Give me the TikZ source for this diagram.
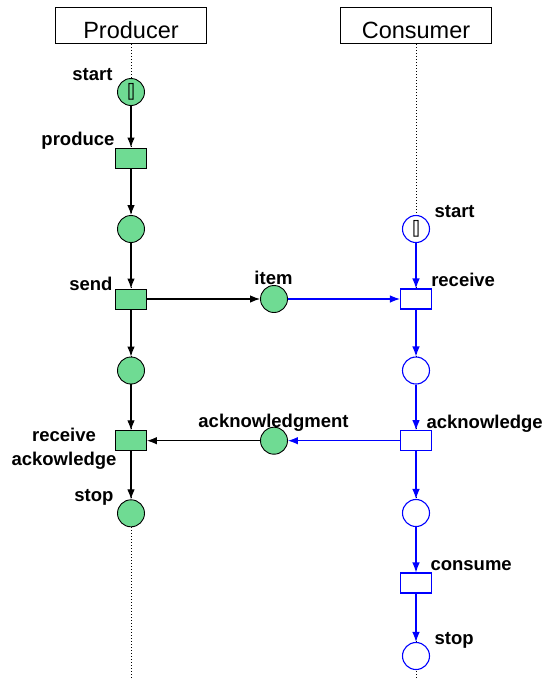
\documentclass[tikz,border=0pt]{standalone}
\usepackage{fontspec}
\setmainfont{Liberation Sans}
\usetikzlibrary{arrows.meta}

\definecolor{placegreen}{RGB}{111,219,147}
\definecolor{netblue}{RGB}{0,0,255}

\begin{document}
\begin{tikzpicture}[x=1pt, y=-1pt, line width=1.1pt]

  \tikzstyle{header}=[draw, rectangle, line width=0.9pt, minimum width=151pt, minimum height=36pt, text height=26pt, text depth=0pt, font=\fontsize{23.5}{28}\selectfont]
  \tikzstyle{lifeline}=[line width=1pt, dash pattern=on 1pt off 2pt]
  \tikzstyle{pplace}=[draw, circle, line width=0.9pt, minimum size=27pt, inner sep=0pt, fill=placegreen]
  \tikzstyle{ptrans}=[draw, rectangle, line width=0.9pt, minimum width=31pt, minimum height=20pt, inner sep=0pt, fill=placegreen]
  \tikzstyle{cplace}=[draw=netblue, circle, line width=1.1pt, minimum size=27pt, inner sep=0pt, fill=white]
  \tikzstyle{ctrans}=[draw=netblue, rectangle, line width=1.1pt, minimum width=31pt, minimum height=20pt, inner sep=0pt, fill=white]
  \tikzstyle{token}=[inner sep=0pt, font=\fontsize{18}{18}\selectfont]
  \tikzstyle{lbl}=[inner sep=0pt, font=\fontsize{18.5}{24.3}\selectfont\bfseries]
  \tikzstyle{arc}=[-{Latex[length=10pt,width=7.5pt]}]

  \useasboundingbox (0,0) rectangle (543,678);

  % Headers
  \node[header] (prod) at (131,25.8) {Producer};
  \node[header] (cons) at (416,25.8) {Consumer};
  \coordinate (pend) at (131,678);
  \coordinate (cend) at (416,678);

  % Lifelines
  \draw[lifeline] (prod.south) -- (pend);
  \draw[lifeline] (cons.south) -- (cend);

  % Producer net
  \node[pplace] (pstart) at (131,92) {};
  \node[ptrans] (produce) at (131,158) {};
  \node[pplace] (pready) at (131,229) {};
  \node[ptrans] (send) at (131,299) {};
  \node[pplace] (pwait) at (131,370.5) {};
  \node[ptrans] (recack) at (131,440.7) {};
  \node[pplace] (pstop) at (131,513.3) {};

  % Channel places
  \node[pplace] (item) at (274,299) {};
  \node[pplace] (ack) at (274,440.7) {};

  % Consumer net
  \node[cplace] (cstart) at (416,229) {};
  \node[ctrans] (receive) at (416,299) {};
  \node[cplace] (cgot) at (416,370.5) {};
  \node[ctrans] (acknowledge) at (416,440.7) {};
  \node[cplace] (cready) at (416,513) {};
  \node[ctrans] (consume) at (416,583) {};
  \node[cplace] (cstop) at (416,656) {};

  % Tokens
  \node[token] (ptok) at (pstart) {\scalebox{0.7}[1]{[]}};
  \node[token] (ctok) at (cstart) {\scalebox{0.7}[1]{[]}};

  % Labels
  \node[lbl, anchor=base east] (lpstart) at (113,80) {start};
  \node[lbl, anchor=base east] (lproduce) at (115,145) {produce};
  \node[lbl, anchor=base east] (lsend) at (113,290) {send};
  \node[lbl, align=center] (lrecack) at (64,449) {receive\\ackowledge};
  \node[lbl, anchor=base east] (lpstop) at (114,501) {stop};
  \node[lbl, anchor=base] (litem) at (273.5,284) {item};
  \node[lbl, anchor=base] (lack) at (273.5,427) {acknowledgment};
  \node[lbl, anchor=base west] (lcstart) at (434,217.3) {start};
  \node[lbl, anchor=base west] (lreceive) at (430.7,286.7) {receive};
  \node[lbl, anchor=base west] (lacknowledge) at (426,428.3) {acknowledge};
  \node[lbl, anchor=base west] (lconsume) at (430,570.7) {consume};
  \node[lbl, anchor=base west] (lcstop) at (434,644) {stop};

  % Producer arcs
  \draw[arc] (pstart) -- (produce);
  \draw[arc] (produce) -- (pready);
  \draw[arc] (pready) -- (send);
  \draw[arc] (send) -- (pwait);
  \draw[arc] (pwait) -- (recack);
  \draw[arc] (recack) -- (pstop);
  \draw[arc] (send) -- (item);
  \draw[arc] (ack) -- (recack);

  % Consumer arcs
  \draw[arc, netblue] (cstart) -- (receive);
  \draw[arc, netblue] (receive) -- (cgot);
  \draw[arc, netblue] (cgot) -- (acknowledge);
  \draw[arc, netblue] (acknowledge) -- (cready);
  \draw[arc, netblue] (cready) -- (consume);
  \draw[arc, netblue] (consume) -- (cstop);
  \draw[arc, netblue] (item) -- (receive);
  \draw[arc, netblue] (acknowledge) -- (ack);

\end{tikzpicture}
\end{document}
